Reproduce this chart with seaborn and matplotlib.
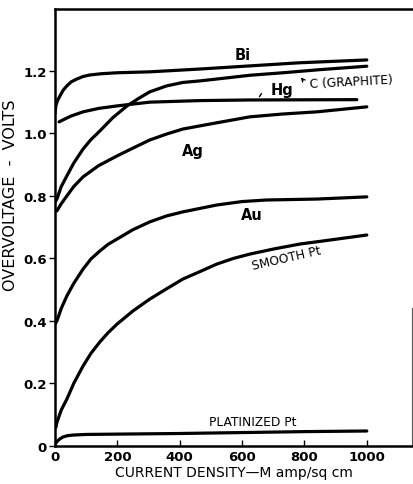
import matplotlib
matplotlib.use("Agg")
import matplotlib.pyplot as plt
import seaborn as sns
import pandas as pd

# ---- data ----
bi_x = [0, 3, 8, 16, 26, 38, 52, 70, 90, 112, 150, 199, 304, 465, 625, 785, 1000]
bi_y = [1.065, 1.09, 1.105, 1.12, 1.138, 1.152, 1.165, 1.174, 1.182, 1.187, 1.191,
        1.194, 1.197, 1.206, 1.216, 1.226, 1.235]

c_x = [0, 6, 20, 38, 60, 90, 115, 144, 185, 231, 270, 304, 358, 410, 465, 519, 625,
       731, 850, 1000]
c_y = [0.78, 0.79, 0.83, 0.864, 0.905, 0.95, 0.98, 1.008, 1.05, 1.088, 1.113, 1.133,
       1.152, 1.163, 1.168, 1.174, 1.186, 1.194, 1.204, 1.215]

hg_x = [13, 50, 90, 140, 199, 304, 465, 625, 968]
hg_y = [1.037, 1.055, 1.069, 1.08, 1.088, 1.10, 1.105, 1.107, 1.108]

ag_x = [6, 20, 38, 60, 90, 140, 199, 250, 304, 358, 410, 519, 625, 730, 840, 1000]
ag_y = [0.752, 0.775, 0.80, 0.83, 0.861, 0.897, 0.928, 0.953, 0.979, 0.998, 1.014,
        1.034, 1.053, 1.062, 1.069, 1.085]

au_x = [0, 6, 20, 38, 60, 90, 115, 144, 170, 199, 250, 304, 358, 410, 519, 600, 679,
        840, 1000]
au_y = [0.39, 0.40, 0.44, 0.48, 0.52, 0.566, 0.598, 0.624, 0.645, 0.662, 0.692, 0.717,
        0.736, 0.749, 0.771, 0.782, 0.787, 0.790, 0.797]

spt_x = [3, 6, 20, 38, 60, 90, 115, 144, 170, 199, 250, 304, 358, 410, 465, 519, 572,
         625, 700, 785, 890, 1000]
spt_y = [0.06, 0.075, 0.115, 0.15, 0.20, 0.256, 0.296, 0.333, 0.362, 0.39, 0.432, 0.470,
         0.503, 0.534, 0.558, 0.582, 0.600, 0.614, 0.630, 0.646, 0.660, 0.675]

ppt_x = [0, 3, 8, 16, 26, 40, 58, 100, 199, 400, 600, 800, 1000]
ppt_y = [0.005, 0.010, 0.016, 0.023, 0.029, 0.033, 0.035, 0.037, 0.038, 0.040, 0.043,
         0.046, 0.048]

x_ticks = [0, 200, 400, 600, 800, 1000]
y_ticks = [0, 0.2, 0.4, 0.6, 0.8, 1.0, 1.2]
y_ticklabels = ["0", "0.2", "0.4", "0.6", "0.8", "1.0", "1.2"]

series = {
    "Bi": (bi_x, bi_y),
    "C (GRAPHITE)": (c_x, c_y),
    "Hg": (hg_x, hg_y),
    "Ag": (ag_x, ag_y),
    "Au": (au_x, au_y),
    "SMOOTH Pt": (spt_x, spt_y),
    "PLATINIZED Pt": (ppt_x, ppt_y),
}

rows = []
for name, (xs, ys) in series.items():
    for xv, yv in zip(xs, ys):
        rows.append({"metal": name, "x": xv, "y": yv})
df = pd.DataFrame(rows)

sns.set_style("ticks")
plt.rcParams["font.family"] = ["DejaVu Sans"]
plt.rcParams["text.color"] = "black"
plt.rcParams["axes.labelcolor"] = "black"
plt.rcParams["xtick.color"] = "black"
plt.rcParams["ytick.color"] = "black"

fig = plt.figure(figsize=(4.13, 4.85), dpi=100)
ax = fig.add_axes([55 / 413, 1 - 447 / 485, (412 - 55) / 413, (447 - 10) / 485])

sns.lineplot(data=df, x="x", y="y", hue="metal", palette=["black"] * len(series),
             linewidth=2.3, legend=False, ax=ax, sort=False, estimator=None)
for ln in ax.get_lines():
    ln.set_solid_capstyle("round")
    ln.set_solid_joinstyle("round")

ax.set_xlim(0, 1145)
ax.set_ylim(0, 1.398)
ax.set_xticks(x_ticks)
ax.set_xticklabels([str(t) for t in x_ticks], fontsize=9.5, fontweight="bold")
ax.set_yticks(y_ticks)
ax.set_yticklabels(y_ticklabels, fontsize=9.5, fontweight="bold")
ax.tick_params(axis="x", direction="in", length=4, width=1, pad=3, colors="black")
ax.tick_params(axis="y", direction="out", length=4, width=1, pad=2, colors="black")

for s in ["left", "top", "bottom"]:
    ax.spines[s].set_linewidth(1.8)
    ax.spines[s].set_color("black")
ax.spines["right"].set_visible(True)
ax.spines["right"].set_linewidth(0.8)
ax.spines["right"].set_linestyle((0, (2, 1)))
ax.spines["right"].set_color("#555555")
ax.spines["right"].set_bounds(0, 0.44)

ax.set_xlabel("CURRENT DENSITY\u2014M amp/sq cm", fontsize=10, labelpad=1, color="black")
ax.set_ylabel("OVERVOLTAGE  -  VOLTS", fontsize=11.5, color="black")
ax.yaxis.set_label_coords(-0.105, 0.575)

# curve labels
lbl = dict(ha="center", va="center", color="black")
ax.text(603, 1.254, "Bi", fontsize=10.5, fontweight="bold", **lbl)
ax.text(728, 1.142, "Hg", fontsize=10.5, fontweight="bold", **lbl)
ax.text(950, 1.168, "C (GRAPHITE)", fontsize=8.8, rotation=3, **lbl)
ax.text(442, 0.944, "Ag", fontsize=10.5, fontweight="bold", **lbl)
ax.text(631, 0.739, "Au", fontsize=10.5, fontweight="bold", **lbl)
ax.text(744, 0.603, "SMOOTH Pt", fontsize=8.8, rotation=13, **lbl)
ax.text(635, 0.077, "PLATINIZED Pt", fontsize=8.8, **lbl)

# pointer marks
ax.annotate("", xy=(651, 1.11), xytext=(667, 1.135),
            arrowprops=dict(arrowstyle="-", lw=1, color="black"))
ax.annotate("", xy=(783, 1.186), xytext=(802, 1.163),
            arrowprops=dict(arrowstyle="->", lw=0.9, color="black", mutation_scale=6))

fig.savefig("out.png", dpi=100, facecolor="white")
